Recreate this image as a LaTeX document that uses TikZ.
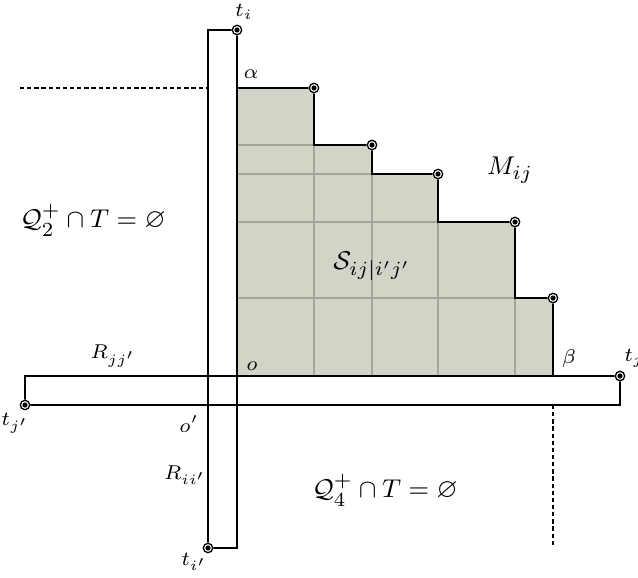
\documentclass[tikz,border=0pt]{standalone}
\usepackage{amssymb}
\begin{document}
\begin{tikzpicture}[x=0.35pt,y=-0.35pt,
  edge/.style={line width=0.5pt,black},
  gridline/.style={line width=0.45pt,draw={rgb,255:red,165;green,165;blue,155}},
  dashline/.style={line width=0.5pt,dash pattern=on 1.5pt off 1pt},
  small/.style={font=\scriptsize,inner sep=0pt},
  big/.style={font=\fontsize{9.5}{11}\selectfont,inner sep=0pt}]
\definecolor{stairfill}{RGB}{211,211,199}
\clip (0,0) rectangle (638,577);
% coordinates
\coordinate (o) at (237,376);
\coordinate (a) at (237,88);
\coordinate (s1) at (314,88);
\coordinate (s1b) at (314,145);
\coordinate (s2) at (372,145);
\coordinate (s2b) at (372,174);
\coordinate (s3) at (438,174);
\coordinate (s3b) at (438,222);
\coordinate (s4) at (515,222);
\coordinate (s4b) at (515,298);
\coordinate (s5) at (553,298);
\coordinate (b) at (553,376);
\coordinate (ti) at (237,30);
\coordinate (tiL) at (208,30);
\coordinate (tip) at (208,548);
\coordinate (tipR) at (237,548);
\coordinate (tj) at (620,376);
\coordinate (tjB) at (620,405);
\coordinate (tjp) at (25,405);
\coordinate (tjpT) at (25,376);
\coordinate (dL) at (20,88);
\coordinate (dR) at (208,88);
\coordinate (vT) at (553,405);
\coordinate (vB) at (553,546);
% staircase fill
\fill[stairfill] (o) -- (a) -- (s1) -- (s1b) -- (s2) -- (s2b) -- (s3) -- (s3b) -- (s4) -- (s4b) -- (s5) -- (b) -- cycle;
% grid lines
\draw[gridline] (237,145) -- (s2);
\draw[gridline] (237,174) -- (s3);
\draw[gridline] (237,222) -- (s4);
\draw[gridline] (237,298) -- (s5);
\draw[gridline] (314,376) -- (s1b);
\draw[gridline] (372,376) -- (s2b);
\draw[gridline] (438,376) -- (s3b);
\draw[gridline] (515,376) -- (s4b);
% staircase boundary
\draw[edge] (a) -- (s1) -- (s1b) -- (s2) -- (s2b) -- (s3) -- (s3b) -- (s4) -- (s4b) -- (s5) -- (b);
% R_ii' strip
\draw[edge] (ti) -- (tiL) -- (tip) -- (tipR) -- cycle;
% R_jj' strip
\draw[edge] (tjpT) -- (tj) -- (tjB) -- (tjp) -- cycle;
% dashed lines
\draw[dashline] (dL) -- (dR);
\draw[dashline] (vT) -- (vB);
% dots
\foreach \p in {ti,s1,s2,s3,s4,s5,tj,tjp,tip}{
  \fill[white] (\p) circle (5.6);
  \draw[line width=0.45pt] (\p) circle (4.7);
  \fill (\p) circle (2.6);
}
% labels
\node[small] (lti) at (244,12) {$t_i$};
\node[small] (lal) at (251,74) {$\alpha$};
\node[big] (lM) at (510,170) {$M_{ij}$};
\node[big] (lS) at (372,266) {$\mathcal{S}_{ij|i'j'}$};
\node[small] (lo) at (252,366) {$o$};
\node[small] (lbe) at (569,358) {$\beta$};
\node[small] (ltj) at (634,358) {$t_j$};
\node[small] (lR1) at (113,356) {$R_{jj'}$};
\node[small] (ltjp) at (15,423) {$t_{j'}$};
\node[small] (lop) at (189,424) {$o'$};
\node[small] (lR2) at (185,475) {$R_{ii'}$};
\node[small] (ltip) at (194,562) {$t_{i'}$};
\node[big] (lQ2) at (93,220) {$\mathcal{Q}_2^+\cap T=\varnothing$};
\node[big] (lQ4) at (385,490) {$\mathcal{Q}_4^+\cap T=\varnothing$};
\end{tikzpicture}
\end{document}
